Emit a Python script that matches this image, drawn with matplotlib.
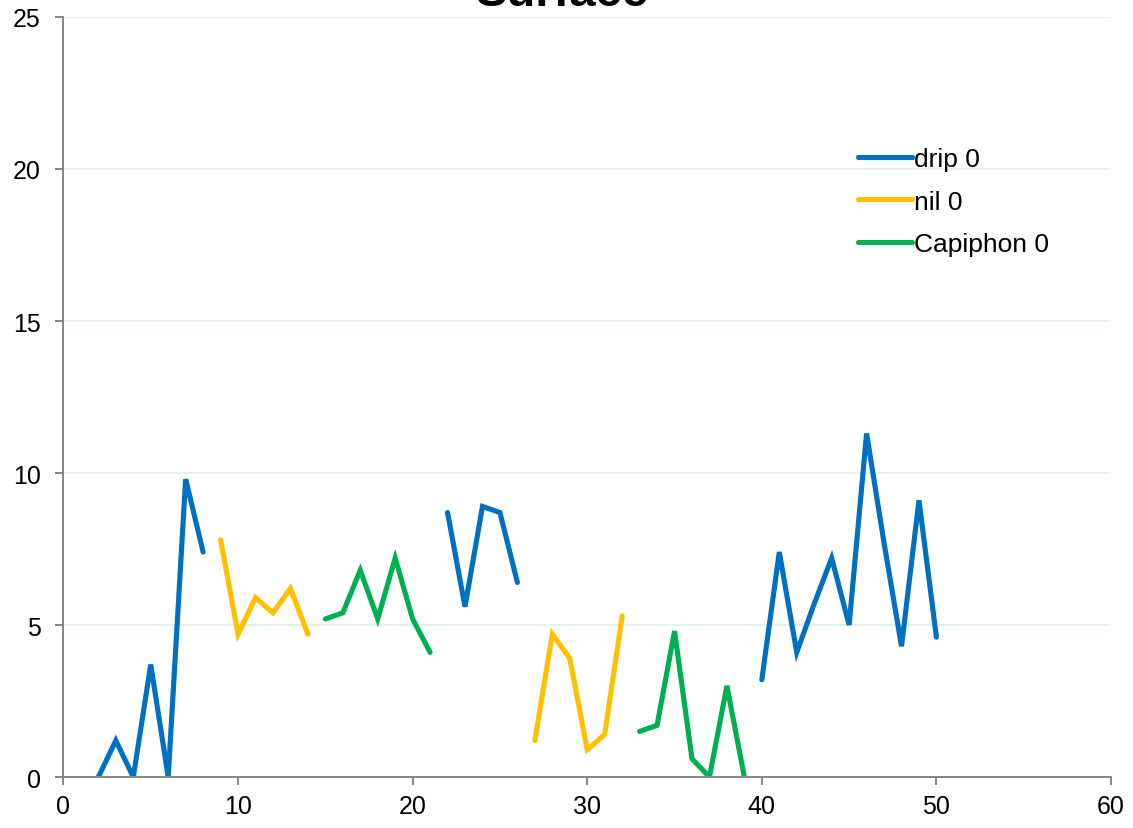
import numpy as np
import matplotlib
matplotlib.use('Agg')
import matplotlib.pyplot as plt

plt.rcParams['font.family'] = ['Liberation Sans', 'DejaVu Sans']

nan = np.nan

# each series is made of separate runs, split by NaN
drip_x = [2, 3, 4, 5, 6, 7, 8, nan, 22, 23, 24, 25, 26, nan,
          40, 41, 42, 43, 44, 45, 46, 47, 48, 49, 50]
drip_y = [0, 1.2, 0, 3.7, 0, 9.8, 7.4, nan, 8.7, 5.6, 8.9, 8.7, 6.4, nan,
          3.2, 7.4, 4.1, 5.7, 7.2, 5.0, 11.3, 7.7, 4.3, 9.1, 4.6]

nil_x = [9, 10, 11, 12, 13, 14, nan, 27, 28, 29, 30, 31, 32]
nil_y = [7.8, 4.7, 5.9, 5.4, 6.2, 4.7, nan, 1.2, 4.7, 3.9, 0.9, 1.4, 5.3]

capiphon_x = [15, 16, 17, 18, 19, 20, 21, nan, 33, 34, 35, 36, 37, 38, 39]
capiphon_y = [5.2, 5.4, 6.8, 5.2, 7.2, 5.2, 4.1, nan, 1.5, 1.7, 4.8, 0.6, 0, 3.0, 0]

labels = ['drip 0', 'nil 0', 'Capiphon 0']
colors = ['#0070C0', '#FFC000', '#00B050']

fig = plt.figure(figsize=(11.33, 8.29), dpi=100)
ax = fig.add_axes([0.056, 0.0615, 0.9246, 0.9168])

series = [(drip_x, drip_y), (nil_x, nil_y), (capiphon_x, capiphon_y)]
for (xs, ys), lbl, col in zip(series, labels, colors):
    ax.plot(xs, ys, color=col, lw=3.7, label=lbl,
            solid_capstyle='round', solid_joinstyle='miter')

ax.set_xlim(0, 60)
ax.set_ylim(0, 25)
ax.set_xticks(range(0, 61, 10))
ax.set_yticks(range(0, 26, 5))
ax.yaxis.grid(True, color='#e3f3ec', lw=1.4)
ax.set_axisbelow(True)

for s in ['top', 'right']:
    ax.spines[s].set_visible(False)
for s in ['left', 'bottom']:
    ax.spines[s].set_color('#868686')
    ax.spines[s].set_linewidth(1.4)
ax.tick_params(axis='both', direction='out', length=5.5, width=1.4,
               color='#868686', labelsize=18, labelcolor='black')
ax.tick_params(axis='x', pad=7)
ax.tick_params(axis='y', pad=11)

ax.legend(loc='upper left', bbox_to_anchor=(0.7355, 0.860), frameon=False,
          fontsize=19, handlelength=2.05, handletextpad=0.1, labelspacing=0.7)

fig.text(0.496, 0.993, 'Surface', ha='center', va='baseline',
         fontsize=34, fontweight='bold')

fig.savefig('out.png', dpi=100)
